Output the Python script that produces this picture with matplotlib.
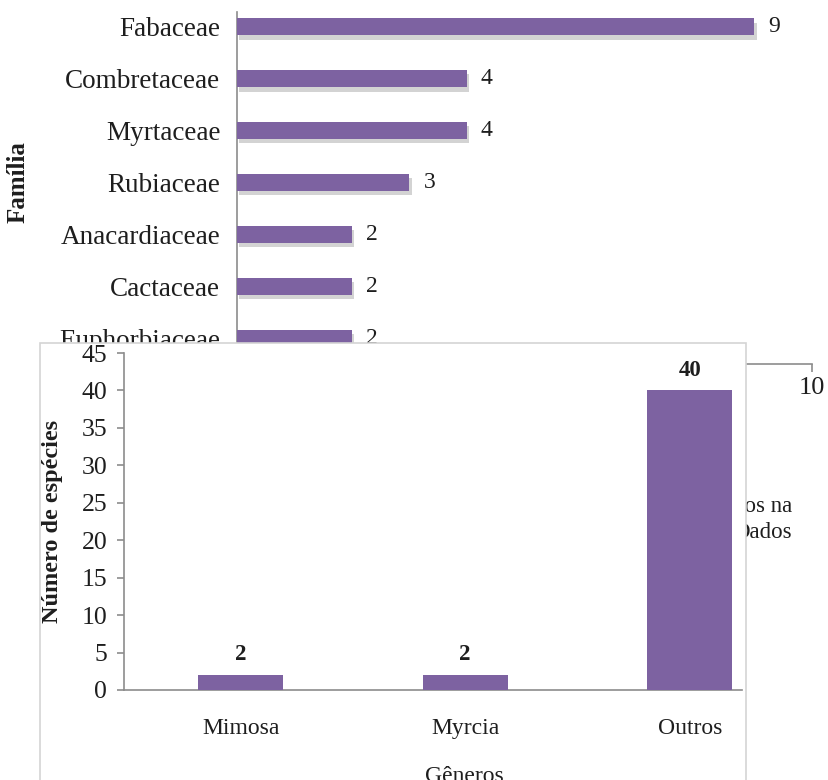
import matplotlib
matplotlib.use("Agg")
import matplotlib.pyplot as plt
from matplotlib.patches import Rectangle
from matplotlib import patheffects as pe

# Families (top panel)
familias = ["Fabaceae", "Combretaceae", "Myrtaceae", "Rubiaceae",
            "Anacardiaceae", "Cactaceae", "Euphorbiaceae"]
especies_familia = [9, 4, 4, 3, 2, 2, 2]
familia_ticks = [0, 2, 4, 6, 8, 10]

# Genera (bottom panel)
generos = ["Mimosa", "Myrcia", "Outros"]
especies_genero = [2, 2, 40]
genero_ticks = [0, 5, 10, 15, 20, 25, 30, 35, 40, 45]

W, H = 829, 780
PURPLE = "#7D62A1"
AXIS = "#8C8C8C"
TXT = "#1E1E1E"
plt.rcParams["font.family"] = ["Liberation Serif", "DejaVu Serif"]


def rect(l, t, r, b):
    return [l / W, 1 - b / H, (r - l) / W, (b - t) / H]


fig = plt.figure(figsize=(W / 100, H / 100), dpi=100)
fig.patch.set_facecolor("white")

# ---- top panel: species per family ----
ax1 = fig.add_axes(rect(237, 1, 812, 364))
ax1.set_zorder(0)
ypos = list(range(len(familias)))
bars1 = ax1.barh(ypos, especies_familia, height=0.33, color=PURPLE, zorder=3)
for b in bars1:
    b.set_path_effects([pe.SimplePatchShadow(offset=(1.5, -3),
                                             shadow_rgbFace="#A8A8A8", alpha=0.5),
                        pe.Normal()])
for y, v in zip(ypos, especies_familia):
    ax1.annotate(str(v), (v, y), xytext=(10, 0), textcoords="offset points",
                 ha="left", va="center", fontsize=17, color=TXT)
ax1.set_ylim(len(familias) - 0.5, -0.5)
ax1.set_xlim(0, 10)
ax1.set_yticks(ypos)
ax1.set_yticklabels(familias, fontsize=19.5, color=TXT)
ax1.set_xticks(familia_ticks)
ax1.set_xticklabels([str(t) for t in familia_ticks], fontsize=19, color=TXT)
ax1.tick_params(axis="y", length=0, pad=12)
ax1.tick_params(axis="x", length=6, width=1.2, color=AXIS, pad=3)
for s in ("top", "right"):
    ax1.spines[s].set_visible(False)
for s in ("left", "bottom"):
    ax1.spines[s].set_color(AXIS)
    ax1.spines[s].set_linewidth(1.2)
ax1.spines["left"].set_bounds(6.5, -0.29)
fig.text(18 / W, 1 - 182 / H, "Família", rotation=90, ha="center", va="center",
         fontsize=18, fontweight="bold", color=TXT)

# running text beside the inset panel
fig.text(792 / W, 1 - 506 / H, "dos na", ha="right", va="center",
         fontsize=16.5, color=TXT, zorder=0.5)
fig.text(792 / W, 1 - 533 / H, "Dados", ha="right", va="center",
         fontsize=16.5, color=TXT, zorder=0.5)

# ---- inset frame ----
frame = Rectangle((40 / W, -0.02), (746 - 40) / W, 1 - 343 / H + 0.02,
                  transform=fig.transFigure, facecolor="white",
                  edgecolor="#D4D4D4", linewidth=1.2, zorder=1)
fig.patches.append(frame)

# ---- bottom panel: species per genus ----
ax2 = fig.add_axes(rect(124, 353, 742, 690))
ax2.set_zorder(2)
ax2.patch.set_alpha(0)
xpos = list(range(len(generos)))
ax2.bar(xpos, especies_genero, width=0.38, color=PURPLE, zorder=3)
for x, v in zip(xpos, especies_genero):
    ax2.annotate(str(v), (x, v), xytext=(0, 7), textcoords="offset points",
                 ha="center", va="bottom", fontsize=16.5, fontweight="bold", color=TXT)
ax2.set_xlim(-0.52, 2.233)
ax2.set_ylim(0, 45)
ax2.set_yticks(genero_ticks)
ax2.set_yticklabels([str(t) for t in genero_ticks], fontsize=18.5, color=TXT)
ax2.set_xticks(xpos)
ax2.set_xticklabels(generos, fontsize=17, color=TXT)
ax2.tick_params(axis="y", length=5, width=1.2, color=AXIS, pad=7)
ax2.tick_params(axis="x", length=0, pad=20)
for s in ("top", "right"):
    ax2.spines[s].set_visible(False)
for s in ("left", "bottom"):
    ax2.spines[s].set_color(AXIS)
    ax2.spines[s].set_linewidth(1.2)
ax2.set_ylabel("Número de espécies", fontsize=17.5, fontweight="bold", color=TXT)
ax2.yaxis.set_label_coords((52 - 124) / 618, 0.5)
ax2.yaxis.label.set_va("center")
ax2.set_xlabel("Gêneros", fontsize=17, color=TXT)
ax2.xaxis.set_label_coords((464 - 124) / 618, (690 - 766) / 337)
ax2.xaxis.label.set_va("top")

fig.savefig("out.png", dpi=100, facecolor="white")
